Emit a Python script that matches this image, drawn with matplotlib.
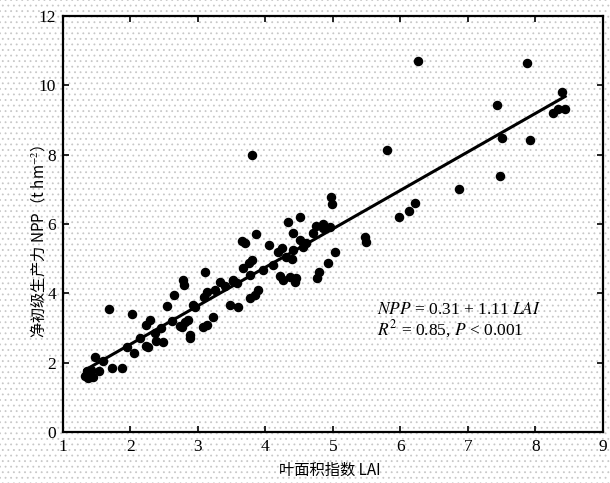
import matplotlib
matplotlib.use("Agg")
import matplotlib.pyplot as plt
from matplotlib.patches import Rectangle
import numpy as np

# 叶面积指数 LAI 与净初级生产力 NPP
lai = [1.33, 1.36, 1.38, 1.40, 1.42, 1.45, 1.47, 1.53, 1.73, 1.88, 1.69,
       2.03, 2.06, 2.23, 2.26, 2.23, 2.29, 2.36, 2.38, 2.49, 2.55, 2.64,
       2.76, 2.86, 2.88, 2.78, 2.80, 2.73, 2.81, 2.88, 3.08, 3.13, 3.23,
       3.10, 3.13, 3.33, 3.52, 3.47, 3.60, 3.67, 3.75, 3.80, 3.77, 3.84,
       3.89, 3.86, 3.65, 3.70, 4.06, 4.19, 4.24, 4.41, 4.51, 4.34, 4.75,
       4.85, 4.95, 5.03, 4.93, 4.79, 4.76, 4.46, 4.36, 4.26, 4.44, 4.21,
       4.97, 4.99, 3.80, 2.93, 2.96, 3.09, 3.25, 3.52, 3.77, 3.97, 4.12,
       4.41, 4.51, 4.71, 4.86, 1.60, 1.95, 2.15, 2.45, 2.62, 4.30, 4.60,
       5.47, 5.49, 5.98, 6.13, 6.22, 6.87, 5.80, 6.26, 7.87, 8.39, 7.43,
       8.26, 8.34, 8.44, 7.51, 7.92, 7.47, 4.40, 4.55, 3.40, 3.58]
npp = [1.62, 1.75, 1.55, 1.68, 1.80, 1.60, 2.17, 1.77, 1.86, 1.86, 3.55,
       3.39, 2.27, 2.48, 2.45, 3.09, 3.23, 2.86, 2.63, 2.61, 3.63, 3.95,
       3.04, 3.23, 2.70, 4.38, 4.24, 3.06, 3.18, 2.80, 3.04, 3.09, 3.33,
       4.62, 4.05, 4.34, 4.36, 3.66, 3.60, 4.72, 4.87, 4.96, 3.86, 3.95,
       4.10, 5.71, 5.52, 5.46, 5.39, 5.20, 5.30, 5.75, 6.21, 6.07, 5.95,
       6.00, 5.90, 5.20, 4.87, 4.62, 4.45, 4.43, 4.48, 4.38, 4.34, 4.50,
       6.79, 6.58, 7.99, 3.66, 3.61, 3.90, 4.10, 4.38, 4.53, 4.67, 4.82,
       5.25, 5.54, 5.73, 5.87, 2.05, 2.45, 2.70, 3.00, 3.20, 5.05, 5.45,
       5.63, 5.49, 6.19, 6.38, 6.61, 7.01, 8.13, 10.70, 10.65, 9.81, 9.42,
       9.21, 9.31, 9.31, 8.47, 8.42, 7.38, 5.00, 5.35, 4.20, 4.30]

fit_a, fit_b = 0.31, 1.11

plt.rcParams['font.family'] = ['Liberation Serif', 'DejaVu Serif']
plt.rcParams['mathtext.fontset'] = 'stix'
plt.rcParams['hatch.linewidth'] = 0.6

fig = plt.figure(figsize=(6.10, 4.83), dpi=100)
# 扫描底纹：浅灰色点阵
fig.add_artist(Rectangle((0, 0), 1, 1, transform=fig.transFigure,
                         facecolor='white', edgecolor='#c8c8c8', linewidth=0,
                         hatch='...', zorder=-10))
ax = fig.add_axes([0.103, 0.1056, 0.8855, 0.8614])
ax.patch.set_alpha(0)

ax.scatter(lai, npp, s=34, color='black', zorder=3)

x_fit = np.array([min(lai), max(lai)])
ax.plot(x_fit, fit_a + fit_b * x_fit, color='black', linewidth=2.2, zorder=4)

ax.set_xlim(1, 9)
ax.set_ylim(0, 12)
ax.set_xticks(range(1, 10))
ax.set_yticks(range(0, 13, 2))
ax.tick_params(direction='in', top=True, right=True, length=4, width=1.2,
               labelsize=12.5, pad=5)
for sp in ax.spines.values():
    sp.set_linewidth(1.6)

ax.text(5.65, 3.40, r'$NPP$ = 0.31 + 1.11 $LAI$', fontsize=12.5)
ax.text(5.65, 2.80, r'$R^2$ = 0.85, $P$ < 0.001', fontsize=12.5)

cjk = ['Noto Sans CJK SC', 'DejaVu Sans']
fig.text(0.54, 0.027, '叶面积指数 LAI', family=cjk, fontsize=11,
         ha='center', va='center')
fig.text(0.062, 0.50, '净初级生产力 NPP（t hm$^{-2}$）', family=cjk,
         fontsize=11, rotation=90, ha='center', va='center')

fig.savefig('out.png', dpi=100)
